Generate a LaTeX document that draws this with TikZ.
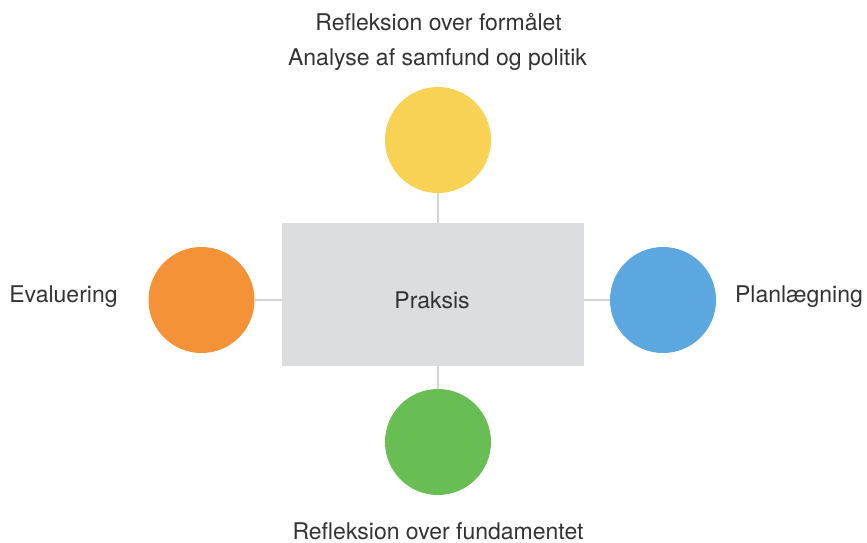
\documentclass[tikz,border=0pt]{standalone}
\usepackage{fontspec}
\setmainfont{TeX Gyre Heros}
\definecolor{cyellow}{HTML}{F7D254}
\definecolor{corange}{HTML}{F49238}
\definecolor{cblue}{HTML}{5CA7DF}
\definecolor{cgreen}{HTML}{68BD53}
\definecolor{cgray}{HTML}{DCDDDF}
\definecolor{cline}{HTML}{D3D3D5}
\definecolor{ctext}{HTML}{333333}
\begin{document}
\begin{tikzpicture}[x=1pt,y=-1pt,
  ball/.style={circle,minimum size=106pt,inner sep=0pt},
  lbl/.style={text=ctext,font=\fontsize{23}{27}\selectfont,inner sep=0pt,anchor=center},
  conn/.style={draw=cline,line width=1.2pt}]
\useasboundingbox (0,0) rectangle (867,542);
\node[fill=cgray,minimum width=302pt,minimum height=143pt,inner sep=0pt] (pr) at (432.5,294.5) {};
\node[lbl] (prt) at (432,300) {Praksis};
\node[ball,fill=cyellow] (y) at (438,140) {};
\node[ball,fill=corange] (o) at (201.5,300) {};
\node[ball,fill=cblue] (b) at (663,300) {};
\node[ball,fill=cgreen] (g) at (438,442) {};
\coordinate (pt) at (438,223);
\coordinate (pb) at (438,366);
\coordinate (pl) at (281.5,300);
\coordinate (pr2) at (583.5,300);
\draw[conn] (y.south) -- (pt);
\draw[conn] (pb) -- (g.north);
\draw[conn] (o.east) -- (pl);
\draw[conn] (pr2) -- (b.west);
\node[lbl] (t1) at (438.5,22) {Refleksion over formålet};
\node[lbl] (t2) at (437.5,60) {Analyse af samfund og politik};
\node[lbl] (t3) at (63.5,297) {Evaluering};
\node[lbl] (t4) at (799,297) {Planlægning};
\node[lbl] (t5) at (438,531) {Refleksion over fundamentet};
\end{tikzpicture}
\end{document}
